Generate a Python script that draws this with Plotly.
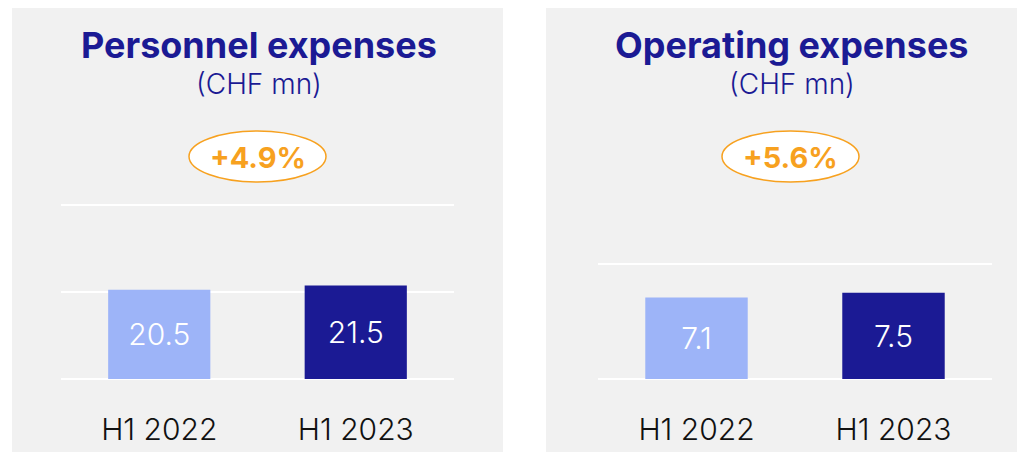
import plotly.graph_objects as go

periods = ["H1 2022", "H1 2023"]
personnel = [20.5, 21.5]
operating = [7.1, 7.5]
titles = ["Personnel expenses", "Operating expenses"]
changes = ["+4.9%", "+5.6%"]

W, H = 1025, 452
OFF = 8  # margem padrão do body no html
navy = "#1b1a94"
light = "#9db4f8"
orange = "#f7a11f"
panel_bg = "#f1f1f1"
font = "Inter"


def px_x(x):
    return (x - OFF) / W


def px_y(y):
    return 1 - (y - OFF) / H


fig = go.Figure()

# barras dos dois painéis
for vals, xa, ya in [(personnel, "x", "y"), (operating, "x2", "y2")]:
    fig.add_trace(go.Bar(
        x=periods, y=vals, xaxis=xa, yaxis=ya,
        marker=dict(color=[light, navy], line=dict(width=0)),
        width=0.52,
        text=[f"{v:.1f}" for v in vals],
        textposition="inside", insidetextanchor="middle", textangle=0,
        textfont=dict(color="white", size=30, family=font, weight=300),
        hoverinfo="skip",
    ))

xax = dict(
    showgrid=False, zeroline=False, showline=False, ticks="",
    tickfont=dict(size=30, color="#111111", family=font, weight=300),
    ticklabelstandoff=30, fixedrange=True,
)
yax = dict(
    showgrid=True, gridcolor="white", gridwidth=2,
    zeroline=True, zerolinecolor="white", zerolinewidth=2,
    showticklabels=False, ticks="", showline=False, fixedrange=True,
)

fig.update_layout(
    width=W, height=H,
    margin=dict(l=0, r=0, t=0, b=0),
    paper_bgcolor="white",
    plot_bgcolor="rgba(0,0,0,0)",
    showlegend=False,
    xaxis=dict(xax, domain=[px_x(61), px_x(454)], anchor="y"),
    yaxis=dict(yax, domain=[px_y(379), px_y(203.7)], range=[0, 40.3],
               tickvals=[0, 20, 40], anchor="x"),
    xaxis2=dict(xax, domain=[px_x(598), px_x(992)], anchor="y2"),
    yaxis2=dict(yax, domain=[px_y(379), px_y(262.9)], range=[0, 10.1],
                tickvals=[0, 10], anchor="x2"),
)

# fundos cinzas dos painéis
for x0, x1 in [(12, 503), (546, 1040)]:
    fig.add_shape(type="rect", xref="paper", yref="paper",
                  x0=px_x(x0), x1=px_x(x1), y0=0, y1=px_y(4),
                  fillcolor=panel_bg, line=dict(width=0), layer="below")

# elipses com a variação
for x0, x1 in [(189, 326), (722, 859)]:
    fig.add_shape(type="circle", xref="paper", yref="paper",
                  x0=px_x(x0), x1=px_x(x1), y0=px_y(182), y1=px_y(131),
                  fillcolor="white", line=dict(color=orange, width=1.5),
                  layer="above")

for cx, title in zip([259, 792], titles):
    fig.add_annotation(x=px_x(cx), y=px_y(45), xref="paper", yref="paper",
                       text=title, showarrow=False, xanchor="center", yanchor="middle",
                       font=dict(size=36, color=navy, family=font, weight=700))
    fig.add_annotation(x=px_x(cx), y=px_y(84), xref="paper", yref="paper",
                       text="(CHF mn)", showarrow=False, xanchor="center", yanchor="middle",
                       font=dict(size=28, color=navy, family=font, weight=300))

for cx, chg in zip([257.5, 790.5], changes):
    fig.add_annotation(x=px_x(cx), y=px_y(158), xref="paper", yref="paper",
                       text=chg, showarrow=False, xanchor="center", yanchor="middle",
                       font=dict(size=29, color=orange, family=font, weight=700))

fig.write_html("out.html")
